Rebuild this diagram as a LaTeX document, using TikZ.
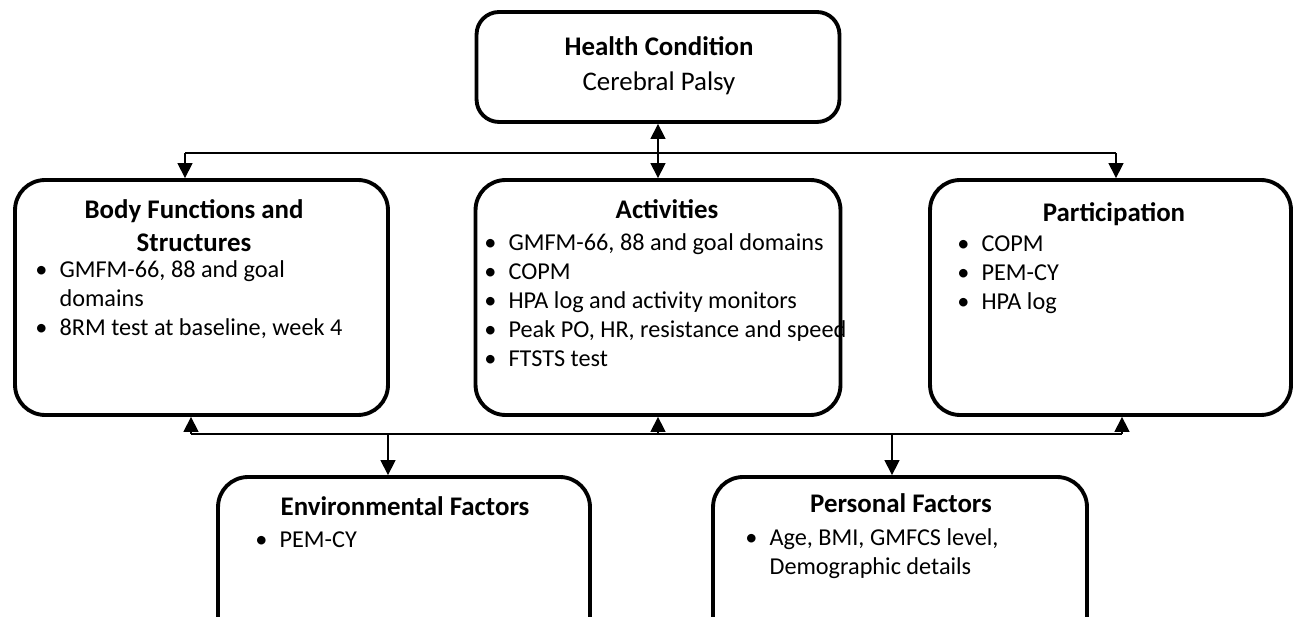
\documentclass[tikz,border=0pt]{standalone}
\usepackage{fontspec}
\setmainfont{Carlito}
\usetikzlibrary{arrows.meta}
\newcommand{\bul}{\makebox[1em][l]{\textbullet}}
\newcommand{\ind}{\hspace*{1em}}

\begin{document}
\fontsize{15.3}{16.5}\selectfont
\begin{tikzpicture}[x=0.02cm,y=0.02cm,
  box/.style={draw, line width=2.2pt, rounded corners=0.6cm, inner sep=0pt},
  hd/.style={font=\bfseries, anchor=north, inner sep=0pt, align=center},
  lst/.style={font=\fontsize{13.8}{16.5}\selectfont, anchor=north west, inner sep=0pt, align=left},
  link/.style={line width=0.8pt},
  tip/.style={-{Triangle[width=0.3cm,length=0.3cm]}}]
\useasboundingbox (0,0) rectangle (1293,-617);
\clip (0,0) rectangle (1293,-617);
% boxes
\node[box, rounded corners=0.45cm, minimum width=7.26cm, minimum height=2.2cm] (hc) at (658,-67) {};
\node[box, minimum width=7.46cm, minimum height=4.7cm] (bfs) at (201.5,-297.5) {};
\node[box, minimum width=7.3cm, minimum height=4.7cm] (act) at (658,-297.5) {};
\node[box, minimum width=7.22cm, minimum height=4.7cm] (par) at (1110.5,-297.5) {};
\node[box, minimum width=7.44cm, minimum height=3.76cm] (env) at (404,-571) {};
\node[box, minimum width=7.48cm, minimum height=3.76cm] (pers) at (900,-571) {};
% headings
\node[hd] (hchd) at (659,-36) {Health Condition\\[3.3pt]\mdseries Cerebral Palsy};
\node[hd] (bfshd) at (194,-199) {Body Functions and\\[2.3pt]Structures};
\node[hd] (acthd) at (667,-199) {Activities};
\node[hd] (parhd) at (1114,-202) {Participation};
\node[hd] (envhd) at (405,-496) {Environmental Factors};
\node[hd] (pershd) at (901,-493) {Personal Factors};
% bullet lists
\node[lst] (bfsl) at (35,-260) {\bul GMFM-66, 88 and goal\\\ind domains\\\bul 8RM test at baseline, week 4};
\node[lst] (actl) at (484,-233) {\bul GMFM-66, 88 and goal domains\\\bul COPM\\\bul HPA log and activity monitors\\\bul Peak PO, HR, resistance and speed\\\bul FTSTS test};
\node[lst] (parl) at (957,-235) {\bul COPM\\\bul PEM-CY\\\bul HPA log};
\node[lst] (envl) at (255,-531) {\bul PEM-CY};
\node[lst] (persl) at (745,-528) {\bul Age, BMI, GMFCS level,\\\ind Demographic details};
% upper links
\coordinate (tl) at (185,-153);
\coordinate (tr) at (1116,-153);
\draw[link,{Triangle[width=0.3cm,length=0.3cm]}-{Triangle[width=0.3cm,length=0.3cm]}] (hc.south) -- (act.north);
\draw[link] (tl) -- (tr);
\draw[link,tip] (tl) -- (tl |- bfs.north);
\draw[link,tip] (tr) -- (tr |- par.north);
% lower links
\coordinate (bl) at (191,-434);
\coordinate (br) at (1122,-434);
\coordinate (ed) at (388,-434);
\coordinate (pd) at (892,-434);
\draw[link] (bl) -- (br);
\draw[link,tip] (bl) -- (bl |- bfs.south);
\draw[link,tip] (act.south |- bl) -- (act.south);
\draw[link,tip] (br) -- (br |- par.south);
\draw[link,tip] (ed) -- (ed |- env.north);
\draw[link,tip] (pd) -- (pd |- pers.north);
\end{tikzpicture}
\end{document}
